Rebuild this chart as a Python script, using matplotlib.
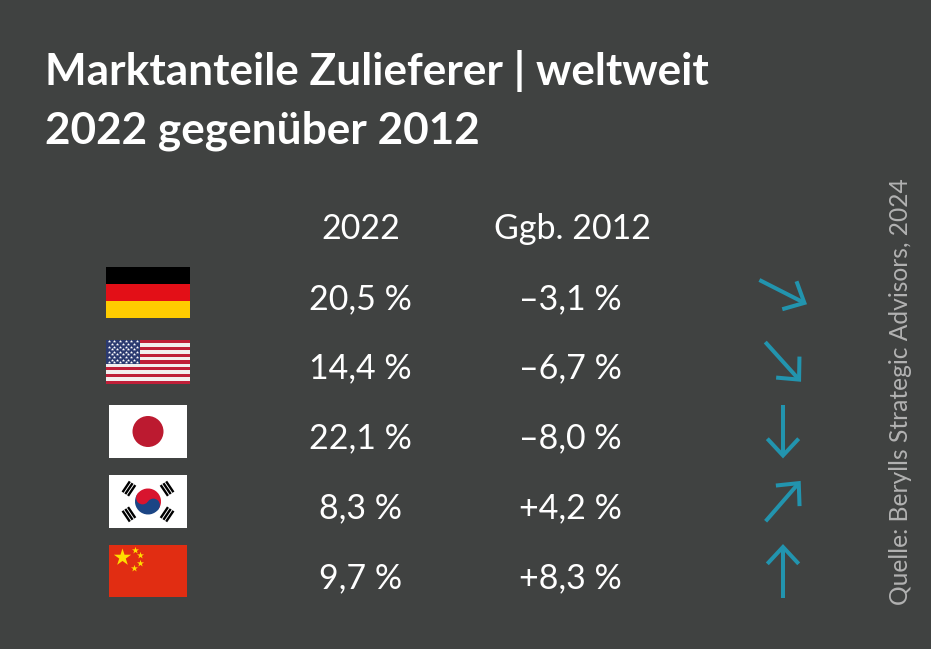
import numpy as np
import matplotlib
matplotlib.use("Agg")
import matplotlib.pyplot as plt
from matplotlib.patches import Rectangle, Circle, Wedge

plt.rcParams['font.family'] = ['Lato', 'DejaVu Sans']

title_lines = ["Marktanteile Zulieferer | weltweit", "2022 gegenüber 2012"]
col_labels = ["2022", "Ggb. 2012"]
countries = ["de", "us", "jp", "kr", "cn"]
share_2022 = ["20,5 %", "14,4 %", "22,1 %", "8,3 %", "9,7 %"]
change_2012 = ["–3,1 %", "–6,7 %", "–8,0 %", "+4,2 %", "+8,3 %"]
arrow_angles = [-27, -48, -90, 49, 90]
source = "Quelle: Berylls Strategic Advisors, 2024"

BG = "#404241"
TEAL = "#2294ae"
RED = "#bc1a30"

fig = plt.figure(figsize=(9.31, 6.49), dpi=100, facecolor=BG)
ax = fig.add_axes([0, 0, 1, 1])
ax.set_xlim(0, 931)
ax.set_ylim(649, 0)
ax.axis("off")


def rect(x, y, w, h, c):
    ax.add_patch(Rectangle((x, y), w, h, fc=c, ec="none"))


def flag_de(x, y, w, h):
    for i, c in enumerate(["#000000", "#e30f17", "#ffcc00"]):
        rect(x, y + i * h / 3, w, h / 3, c)


def flag_us(x, y, w, h):
    sh = h / 13
    for i in range(13):
        rect(x, y + i * sh, w, sh, "#bf1f38" if i % 2 == 0 else "#f2eeee")
    cw, ch = w * 0.4, sh * 7
    rect(x, y, cw, ch, "#2b3a70")
    for r in range(9):
        n = 6 if r % 2 == 0 else 5
        off = 0.5 if r % 2 == 0 else 1
        xs = x + (np.arange(n) + off) * cw / 6
        ax.scatter(xs, np.full(n, y + (r + 0.5) * ch / 9), s=6, c="white", linewidths=0, marker="*", zorder=3)


def flag_jp(x, y, w, h):
    rect(x, y, w, h, "white")
    ax.add_patch(Circle((x + w * 0.5, y + h * 0.5), 15.5, fc=RED, ec="none"))


def flag_kr(x, y, w, h):
    rect(x, y, w, h, "white")
    cx, cy = x + w / 2, y + h / 2
    r = 13
    # y axis is flipped, so angles run clockwise on screen
    ax.add_patch(Wedge((cx, cy), r, 214, 34, fc="#d8142e", ec="none"))
    ax.add_patch(Wedge((cx, cy), r, 34, 214, fc="#1b4585", ec="none"))
    ang = np.deg2rad(34)
    dx, dy = r / 2 * np.cos(ang), r / 2 * np.sin(ang)
    ax.add_patch(Circle((cx - dx, cy - dy), r / 2, fc="#d8142e", ec="none", zorder=3))
    ax.add_patch(Circle((cx + dx, cy + dy), r / 2, fc="#1b4585", ec="none", zorder=3))
    for sx, sy in [(-1, -1), (1, -1), (-1, 1), (1, 1)]:
        # trigrams at the four corners
        ux, uy = sx * np.cos(np.deg2rad(34)), sy * np.sin(np.deg2rad(34))
        px, py = -uy, ux
        for k in [-1, 0, 1]:
            mx = cx + ux * (23 + k * 3.3)
            my = cy + uy * (23 + k * 3.3)
            ax.plot([mx - px * 6.5, mx + px * 6.5], [my - py * 6.5, my + py * 6.5],
                    color="black", lw=1.7, solid_capstyle="butt", zorder=3)


def flag_cn(x, y, w, h):
    rect(x, y, w, h, "#e12d12")
    ax.scatter([x + 13], [y + 12], s=170, c="#ffdd00", marker="*", linewidths=0, zorder=3)
    ax.scatter(x + np.array([26, 31, 31, 25]), y + np.array([5, 10, 18, 23]),
               s=28, c="#ffdd00", marker="*", linewidths=0, zorder=3)


flag_funcs = {"de": flag_de, "us": flag_us, "jp": flag_jp, "kr": flag_kr, "cn": flag_cn}
flag_boxes = {"de": (106, 267, 84, 51), "us": (106, 340, 84, 44), "jp": (109, 405, 78, 53),
              "kr": (109, 475, 78, 53), "cn": (109, 545, 78, 52)}

for i, line in enumerate(title_lines):
    ax.text(45, 71.5 + i * 59, line, color="white", fontsize=31.8, fontweight="bold", ha="left", va="center")

ax.text(360.5, 229, col_labels[0], color="white", fontsize=24.5, ha="center", va="center")
ax.text(572, 229, col_labels[1], color="white", fontsize=24.5, ha="center", va="center")

for i, c in enumerate(countries):
    flag_funcs[c](*flag_boxes[c])
    y = 299 + i * 69.75
    ax.text(360.5, y, share_2022[i], color="white", fontsize=24.5, ha="center", va="center")
    ax.text(570, y, change_2012[i], color="white", fontsize=24.5, ha="center", va="center")

    # arrow is drawn as shaft plus a mitred head around the row centre
    a = np.deg2rad(arrow_angles[i])
    ux, uy = np.cos(a), -np.sin(a)
    cx, cy = 783, y - 7
    tail = (cx - ux * 26.5, cy - uy * 26.5)
    tip = (cx + ux * 24, cy + uy * 24)
    ax.plot([tail[0], tip[0]], [tail[1], tip[1]], color=TEAL, lw=2.9, solid_capstyle="butt")
    ends = []
    for sign in [-1, 1]:
        b = -a + np.pi + sign * np.deg2rad(43)
        ends.append((tip[0] + np.cos(b) * 23, tip[1] + np.sin(b) * 23))
    ax.plot([ends[0][0], tip[0], ends[1][0]], [ends[0][1], tip[1], ends[1][1]], color=TEAL, lw=2.9,
            solid_capstyle="butt", solid_joinstyle="miter")

ax.text(901, 391.5, source, color="#b2b2b2", fontsize=17.75, rotation=90, ha="center", va="center")

fig.savefig("out.png", dpi=100, facecolor=BG)
